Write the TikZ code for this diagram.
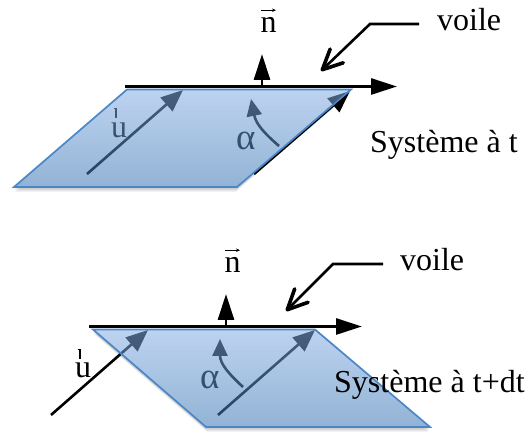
\documentclass[tikz,border=0pt]{standalone}
\usepackage{fontspec}
\setmainfont{Liberation Serif}
\usetikzlibrary{arrows.meta,calc}
\definecolor{sailTop}{RGB}{135,175,228}
\definecolor{sailBot}{RGB}{58,118,180}
\definecolor{sailEdge}{RGB}{75,135,200}
\pgfdeclareverticalshading{sailshade}{100bp}{color(0bp)=(sailBot); color(25bp)=(sailBot); color(75bp)=(sailTop); color(100bp)=(sailTop)}
\tikzset{
  x=1pt,y=-1pt,
  lbl/.style={inner sep=0pt,anchor=base west,font=\fontsize{32}{36}\selectfont,text=black},
  alphalbl/.style={inner sep=0pt,anchor=base west,font=\fontsize{37}{40}\selectfont,text=black},
  bigarrow/.style={line width=2.8pt,draw=black,-{Triangle[length=26pt,width=16pt]}},
  uarrow/.style={line width=2.6pt,draw=black,-{Triangle[length=22pt,width=18pt]}},
  curvearrow/.style={line width=2.6pt,draw=black,-{Triangle[length=17pt,width=15pt]}},
  callout/.style={line width=2.6pt,draw=black,-{Straight Barb[length=20pt,width=19pt,line width=3.6pt,round]}},
  veca/.style={line width=.9pt,draw=black,-{Stealth[length=4pt,width=3.5pt]}},
  tick/.style={line width=2pt,draw=black},
  sail/.style={shading=sailshade,fill opacity=.55,draw=none},
  sailline/.style={draw=sailEdge,line width=1.7pt,line join=miter},
  shadow/.style={fill=black,fill opacity=.05,draw=none},
}
\newcommand{\sailshadow}[4]{%
  \foreach \d/\g in {1/0,2/0,3/.5,4/1,5/1.5}{%
    \fill[shadow] ($(#1)+(\g,\d)$) -- ($(#2)+(-\g,\d)$) -- ($(#3)+(-\g,\d)$) -- ($(#4)+(\g,\d)$) -- cycle;}%
  \fill[white] (#1) -- (#2) -- (#3) -- (#4) -- cycle;}
\begin{document}
\begin{tikzpicture}
\useasboundingbox (0,0) rectangle (531,435);
\fill[white] (0,0) rectangle (531,435);

% ---------- top system
\coordinate (a1) at (127,89.5);
\coordinate (a2) at (351,89.5);
\coordinate (a3) at (237,187);
\coordinate (a4) at (14,187);
\sailshadow{a1}{a2}{a3}{a4}
\coordinate (ua) at (87,174);
\coordinate (ub) at (183,90);
\coordinate (va) at (254,174);
\coordinate (vb) at (350,91);
\coordinate (ca) at (279,146);
\coordinate (cb) at (251,99);
\draw[uarrow] (ua) -- (ub);
\draw[uarrow] (va) -- (vb);
\draw[curvearrow] (ca) .. controls (264,133) and (256,124) .. (cb);
\node[lbl] (u1) at (111,138) {u};
\draw[tick] (116,108) -- (116,118);
\draw[tick,line width=1pt] (113.5,108.5) -- (116,108.5);
\node[alphalbl] (al1) at (236,150) {α};
\shade[sail] (a1) -- (a2) -- (a3) -- (a4) -- cycle;
\draw[sailline] (a1) -- (a2) -- (a3) -- (a4) -- cycle;

\coordinate (la) at (125,86.5);
\coordinate (lb) at (397,86.5);
\draw[bigarrow] (la) -- (lb);
\coordinate (na) at (262,87);
\coordinate (nb) at (262,54);
\draw[bigarrow] (na) -- (nb);
\node[lbl] (n1) at (260.5,33) {n};
\draw[veca] ([xshift=.5pt,yshift=-1.5pt]n1.north west) ++(0,-9) -- ++(15,0);
\node[lbl] (voile1) at (437,31) {voile};
\coordinate (wa) at (419,24);
\coordinate (wb) at (370,24);
\coordinate (wc) at (321,71);
\draw[callout] (wa) -- (wb) -- (wc);
\node[lbl] (sys1) at (370,153) {Système à t};

% ---------- bottom system
\coordinate (b1) at (93,329.5);
\coordinate (b2) at (315,329.5);
\coordinate (b3) at (430,427);
\coordinate (b4) at (206,427);
\sailshadow{b1}{b2}{b3}{b4}
\coordinate (pa) at (51,415);
\coordinate (pb) at (148,330);
\coordinate (qa) at (218,415);
\coordinate (qb) at (315,330);
\coordinate (ra) at (243,387);
\coordinate (rb) at (220,339);
\draw[uarrow] (pa) -- (pb);
\draw[uarrow] (qa) -- (qb);
\draw[curvearrow] (ra) .. controls (229,374) and (220,364) .. (rb);
\node[lbl] (u2) at (75,378) {u};
\draw[tick] (80,349) -- (80,359);
\draw[tick,line width=1pt] (77.5,349.5) -- (80,349.5);
\node[alphalbl] (al2) at (200,389) {α};
\shade[sail] (b1) -- (b2) -- (b3) -- (b4) -- cycle;
\draw[sailline] (b1) -- (b2) -- (b3) -- (b4) -- cycle;

\coordinate (ma) at (89,326.5);
\coordinate (mb) at (362,326.5);
\draw[bigarrow] (ma) -- (mb);
\coordinate (oa) at (226,327);
\coordinate (ob) at (226,294);
\draw[bigarrow] (oa) -- (ob);
\node[lbl] (n2) at (224.5,273) {n};
\draw[veca] ([xshift=.5pt,yshift=-1.5pt]n2.north west) ++(0,-9) -- ++(15,0);
\node[lbl] (voile2) at (400,271) {voile};
\coordinate (xa) at (383,264);
\coordinate (xb) at (333,264);
\coordinate (xc) at (286,311);
\draw[callout] (xa) -- (xb) -- (xc);
\node[lbl] (sys2) at (334,393) {Système à t+dt};
\end{tikzpicture}
\end{document}
